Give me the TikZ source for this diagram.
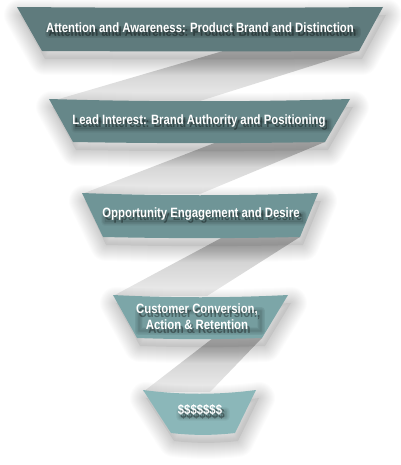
\documentclass[tikz,border=0pt]{standalone}
\usepackage{fontspec}
\usetikzlibrary{calc}
\newfontfamily\lblfont[FakeStretch=0.84]{Liberation Sans}
\definecolor{tA}{HTML}{5F7B7D}
\definecolor{tB}{HTML}{668789}
\definecolor{tC}{HTML}{6F9597}
\definecolor{tD}{HTML}{7CA6A8}
\definecolor{tE}{HTML}{8BB7B9}
\pgfdeclarelayer{back}
\pgfdeclarelayer{mid}
\pgfsetlayers{back,mid,main}
\tikzset{
  lbl/.style={text=white, font=\lblfont\bfseries\fontsize{13.5}{16}\selectfont, align=center, inner sep=0pt},
  lblshadow/.style={text=black, text opacity=0.35, font=\lblfont\bfseries\fontsize{13.5}{16}\selectfont, align=center, inner sep=0pt},
  ribbon/.style={top color=black!24, bottom color=black!7, draw=none},
  shadowline/.style={draw=black, draw opacity=0.013, line join=round, fill=none},
  txtshadow/.style={draw=black, draw opacity=0.035, line join=round, fill=none}
}
% #1 options, #2 tlx, #3 trx, #4 ty, #5 blx, #6 brx, #7 by, #8 sag
\newcommand{\trappath}[8]{%
  \path[#1] (#2,#4) .. controls ({#2+(#3-#2)/3},{#4+#8}) and ({#3-(#3-#2)/3},{#4+#8}) .. (#3,#4)
    -- (#6,#7) .. controls ({#6-(#6-#5)/3},{#7+#8/2}) and ({#5+(#6-#5)/3},{#7+#8/2}) .. (#5,#7) -- cycle;}
\newcommand{\trapshadow}[7]{%
  \foreach \w in {2,4,...,32} {%
    \trappath{shadowline, line width=\w pt, shift={(3,8)}}{#1}{#2}{#3}{#4}{#5}{#6}{#7}}%
  \trappath{fill=black, fill opacity=0.06, shift={(3,8)}}{#1}{#2}{#3}{#4}{#5}{#6}{#7}}
% soft smudge behind a text node #1
\newcommand{\textsmudge}[1]{%
  \begin{pgfonlayer}{mid}
  \foreach \w in {1,2.5,...,8.5} {%
    \path[txtshadow, line width=\w pt] ($(#1.north west)+(3,7)$) rectangle ($(#1.south east)+(3,1)$);}
  \path[fill=black, fill opacity=0.05] ($(#1.north west)+(3,7)$) rectangle ($(#1.south east)+(3,1)$);
  \end{pgfonlayer}}
\begin{document}
\begin{tikzpicture}[x=1pt,y=-1pt]
\useasboundingbox (0,0) rectangle (400,465);
\begin{pgfonlayer}{back}
% ribbons
\path[ribbon] (223,51) -- (359,51) -- (200,101) -- (52,101) -- cycle;
\path[ribbon] (217,142) -- (325,142) -- (200,194) -- (82,194) -- cycle;
\path[ribbon] (223,237) -- (300,237) -- (207,296) -- (113,296) -- cycle;
\path[ribbon] (213,338) -- (262,338) -- (210,392) -- (143,392) -- cycle;
% shadows
\trapshadow{17}{383}{7}{42}{359}{51}{1}
\trapshadow{49}{350}{99}{73}{325}{142}{3}
\trapshadow{82}{318}{193}{103}{300}{237}{3}
\trapshadow{113}{288}{295}{137}{262}{338}{3}
\trapshadow{143}{256}{390}{171}{235}{433}{5}
% trapezoids
\trappath{fill=tA}{17}{383}{7}{42}{359}{51}{1}
\trappath{fill=tB}{49}{350}{99}{73}{325}{142}{3}
\trappath{fill=tC}{82}{318}{193}{103}{300}{237}{3}
\trappath{fill=tD}{113}{288}{295}{137}{262}{338}{3}
\trappath{fill=tE}{143}{256}{390}{171}{235}{433}{5}
\end{pgfonlayer}
% text shadows
\begin{pgfonlayer}{mid}
\node[lblshadow] (sa) at (202.5,31.5) {Attention and Awareness: Product Brand and Distinction};
\node[lblshadow] (sb) at (201.5,124.5) {Lead Interest: Brand Authority and Positioning};
\node[lblshadow] (sc) at (203.5,217.5) {Opportunity Engagement and Desire};
\node[lblshadow] (sd) at (199.5,320.5) {Customer Conversion,\\Action \& Retention};
\node[lblshadow] (se) at (202.5,413.5) {\$\$\$\$\$\$\$};
\end{pgfonlayer}
% labels
\node[lbl] (t1) at (200,28) {Attention and Awareness: Product Brand and Distinction};
\node[lbl] (t2) at (199,121) {Lead Interest: Brand Authority and Positioning};
\node[lbl] (t3) at (201,214) {Opportunity Engagement and Desire};
\node[lbl] (t4) at (197,317) {Customer Conversion,\\Action \& Retention};
\node[lbl] (t5) at (200,410) {\$\$\$\$\$\$\$};
\textsmudge{t1}
\textsmudge{t2}
\textsmudge{t3}
\textsmudge{t4}
\textsmudge{t5}
\end{tikzpicture}
\end{document}
